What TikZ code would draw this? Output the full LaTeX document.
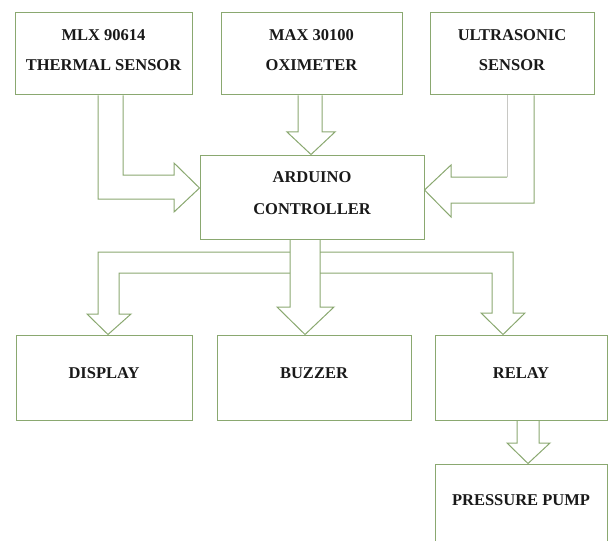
\documentclass[tikz,border=0pt]{standalone}
\usepackage{fontspec}
\setmainfont{Liberation Serif}
\definecolor{boxgreen}{RGB}{138,168,112}
\definecolor{shaftgray}{RGB}{200,200,196}

\begin{document}
\begin{tikzpicture}[x=1pt,y=-1pt,line join=miter,
    blk/.style={draw=boxgreen,line width=1pt,align=center,inner sep=0pt,text=black!90,text depth=8pt,
      font=\fontsize{16.5}{30}\selectfont\bfseries},
    arr/.style={draw=boxgreen,line width=1pt}]
    \useasboundingbox(0,0)rectangle(609,540);
    \node[blk,minimum width=177pt,minimum height=82pt](mlx)at(103.5,54){MLX 90614\\THERMAL SENSOR};
    \node[blk,minimum width=181pt,minimum height=82pt](max)at(311.5,54){MAX 30100\\OXIMETER};
    \node[blk,minimum width=164pt,minimum height=82pt](ultra)at(512,54){ULTRASONIC\\SENSOR};
    \node[blk,minimum width=224pt,minimum height=84pt,font=\fontsize{16.5}{32}\selectfont\bfseries](ard)at(312,197){ARDUINO\\CONTROLLER};
    \node[blk,minimum width=176pt,minimum height=85pt](disp)at(104,377.5){DISPLAY};
    \node[blk,minimum width=194pt,minimum height=85pt](buzz)at(314,377.5){BUZZER};
    \node[blk,minimum width=172pt,minimum height=85pt](relay)at(521,377.5){RELAY};
    \node[blk,minimum width=172pt,minimum height=80pt](pump)at(521,504){PRESSURE PUMP};
    % sensors into the controller
    \draw[arr](98,0|-mlx.south)--(98,199)--(174,199)--(174,212)--(ard.west|-0,188)--(174,163)--(174,175)--(123,175)--(123,0|-mlx.south);
    \draw[arr](298,0|-max.south)--(298,132)--(287,132)--(311,0|-ard.north)--(335,132)--(322,132)--(322,0|-max.south);
    \draw[arr](534,0|-ultra.south)--(534,203)--(451,203)--(451,217)--(ard.east|-0,190)--(451,165)--(451,177)--(507,177);
    \draw[arr,draw=shaftgray](507,177)--(507,0|-ultra.south);
    % controller to the outputs
    \draw[arr](290,0|-ard.south)--(290,307)--(277,307)--(305,0|-buzz.north)--(334,307)--(320,307)--(320,0|-ard.south);
    \draw[arr](290,252)--(98,252)--(98,314)--(87,314)--(108,0|-disp.north)--(131,314)--(119,314)--(119,273)--(290,273);
    \draw[arr](320,252)--(513,252)--(513,313)--(525,313)--(503,0|-relay.north)--(481,313)--(492,313)--(492,273)--(320,273);
    \draw[arr](517,0|-relay.south)--(517,443)--(507,443)--(528,0|-pump.north)--(550,443)--(539,443)--(539,0|-relay.south);
\end{tikzpicture}
\end{document}
